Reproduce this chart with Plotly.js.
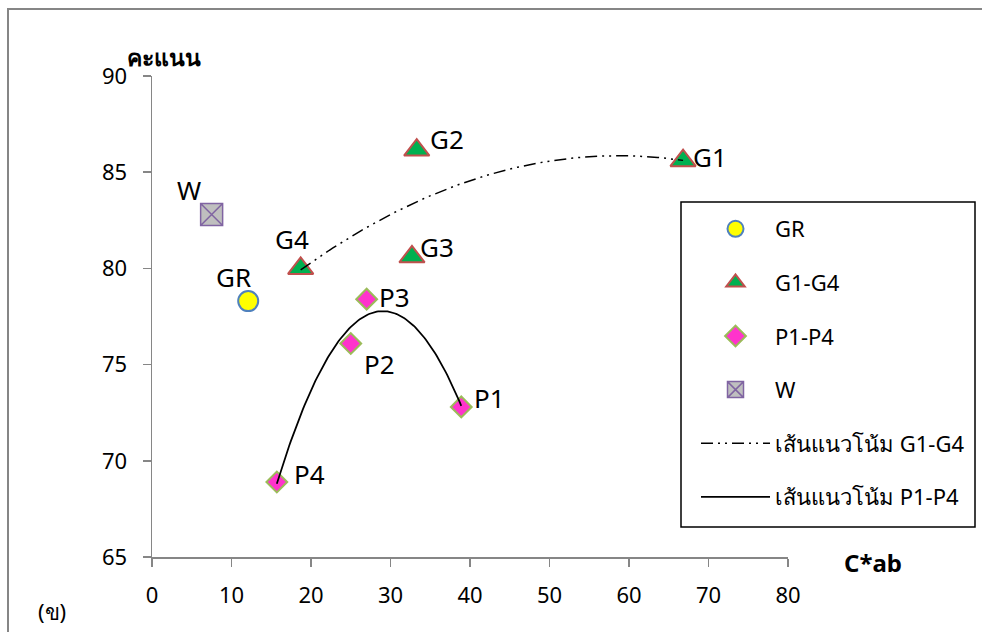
<!DOCTYPE html>
<html>
<head>
<meta charset="utf-8">
<script src="https://cdn.plot.ly/plotly-3.0.1.min.js"></script>
<style>
html,body{margin:0;padding:0;background:#fff;}
#chart{width:982px;height:632px;}
</style>
</head>
<body>
<div id="chart"></div>
<script>
// ---- data ----
const grName = 'GR';
const grX = [12.1];
const grY = [78.3];

const gName = 'G1-G4';
const gLabels = ['G1', 'G2', 'G3', 'G4'];
const gX = [66.8, 33.3, 32.7, 18.7];
const gY = [85.6, 86.15, 80.6, 80.0];

const pName = 'P1-P4';
const pLabels = ['P1', 'P2', 'P3', 'P4'];
const pX = [38.9, 25.0, 27.0, 15.7];
const pY = [72.8, 76.1, 78.4, 68.9];

const wName = 'W';
const wX = [7.5];
const wY = [82.8];

const trendGName = 'เส้นแนวโน้ม G1-G4';
const trendPName = 'เส้นแนวโน้ม P1-P4';

const yTitle = 'คะแนน';
const xTitle = 'C*ab';
const panelLabel = '(ข)';

// ---- label placement (style only) ----
const labelOffsets = {
  G1: [8, 4, 'left'], G2: [11, 11, 'left'], G3: [6, 10, 'left'], G4: [-9, 29, 'center'],
  P1: [11, 9, 'left'], P2: [11, -21, 'left'], P3: [10, 2, 'left'], P4: [15, 8, 'left'],
  GR: [-15, 24, 'center'], W: [-23, 25, 'center']
};

// least-squares quadratic fit (Excel polynomial trendline, order 2)
function quadFit(xs, ys) {
  let n = xs.length, S = [0,0,0,0,0], T = [0,0,0];
  for (let i = 0; i < n; i++) {
    let p = 1;
    for (let k = 0; k < 5; k++) { S[k] += p; if (k < 3) T[k] += p * ys[i]; p *= xs[i]; }
  }
  const A = [[S[0],S[1],S[2],T[0]],[S[1],S[2],S[3],T[1]],[S[2],S[3],S[4],T[2]]];
  for (let c = 0; c < 3; c++) {
    for (let r = c + 1; r < 3; r++) {
      const f = A[r][c] / A[c][c];
      for (let k = c; k < 4; k++) A[r][k] -= f * A[c][k];
    }
  }
  const coef = [0,0,0];
  for (let r = 2; r >= 0; r--) {
    let s = A[r][3];
    for (let k = r + 1; k < 3; k++) s -= A[r][k] * coef[k];
    coef[r] = s / A[r][r];
  }
  return coef;
}
function trend(xs, ys) {
  const c = quadFit(xs, ys);
  const lo = Math.min(...xs), hi = Math.max(...xs);
  const tx = [], ty = [];
  for (let i = 0; i <= 120; i++) {
    const x = lo + (hi - lo) * i / 120;
    tx.push(x); ty.push(c[0] + c[1] * x + c[2] * x * x);
  }
  return [tx, ty];
}
const [tgx, tgy] = trend(gX, gY);
const [tpx, tpy] = trend(pX, pY);

const FONT = '"Noto Sans", "Open Sans", "DejaVu Sans", sans-serif';

const traces = [
  {x: grX, y: grY, name: grName, type: 'scatter', mode: 'markers', legendgroup: 'a',
   marker: {symbol: 'circle', size: 20, color: '#FFFF00', line: {color: '#4F81BD', width: 2}}},
  {x: gX, y: gY, name: gName, type: 'scatter', mode: 'markers', legendgroup: 'b',
   marker: {symbol: 'triangle-up', size: 22, color: '#00B050', line: {color: '#C0504D', width: 2}}},
  {x: pX, y: pY, name: pName, type: 'scatter', mode: 'markers', legendgroup: 'c',
   marker: {symbol: 'diamond', size: 16, color: '#FF33CC', line: {color: '#9BBB59', width: 2}}},
  {x: wX, y: wY, name: wName, type: 'scatter', mode: 'markers', legendgroup: 'd',
   marker: {symbol: 'square-x', size: 22, color: '#BFBFBF', line: {color: '#8064A2', width: 1.5}}},
  {x: tgx, y: tgy, name: trendGName, type: 'scatter', mode: 'lines', legendgroup: 'e',
   line: {color: '#000000', width: 1.5, dash: '12px,5px,2px,5px,2px,5px'}},
  {x: tpx, y: tpy, name: trendPName, type: 'scatter', mode: 'lines', legendgroup: 'f',
   line: {color: '#000000', width: 1.75}}
];

const annotations = [];
function addLabels(labels, xs, ys) {
  labels.forEach((t, i) => {
    const o = labelOffsets[t];
    annotations.push({x: xs[i], y: ys[i], xref: 'x', yref: 'y', text: t, showarrow: false,
      xanchor: o[2], yanchor: 'middle', xshift: o[0], yshift: o[1],
      font: {family: FONT, size: 26, color: '#000'}});
  });
}
addLabels(gLabels, gX, gY);
addLabels(pLabels, pX, pY);
addLabels([grName], grX, grY);
addLabels([wName], wX, wY);

const px2x = p => (p - 152) / 636;
const px2y = p => (557 - p) / 481;

annotations.push({xref: 'paper', yref: 'paper', x: px2x(164), y: px2y(57), text: '<b>' + yTitle + '</b>',
  showarrow: false, xanchor: 'center', yanchor: 'middle', font: {family: FONT, size: 23, color: '#000'}});
annotations.push({xref: 'paper', yref: 'paper', x: px2x(873), y: px2y(562), text: '<b>' + xTitle + '</b>',
  showarrow: false, xanchor: 'center', yanchor: 'middle', font: {family: FONT, size: 24, color: '#000'}});
annotations.push({xref: 'paper', yref: 'paper', x: px2x(52), y: px2y(611), text: panelLabel,
  showarrow: false, xanchor: 'center', yanchor: 'middle', font: {family: FONT, size: 22, color: '#000'}});

const axisCommon = {showgrid: false, zeroline: false, showline: true, linecolor: '#868686', linewidth: 1.5,
  ticks: 'outside', ticklen: 8, tickcolor: '#868686', tickwidth: 1.5,
  tickfont: {family: FONT, size: 22, color: '#000'}};

const layout = {
  width: 982, height: 632,
  margin: {l: 152, r: 194, t: 76, b: 75},
  paper_bgcolor: '#fff', plot_bgcolor: '#fff',
  font: {family: FONT},
  xaxis: Object.assign({}, axisCommon, {range: [0, 80], dtick: 10, tick0: 0, ticklabelstandoff: 10}),
  yaxis: Object.assign({}, axisCommon, {range: [65, 90], dtick: 5, tick0: 65, ticklabelstandoff: 11}),
  showlegend: true,
  legend: {x: px2x(696), y: px2y(208), xanchor: 'left', yanchor: 'top', traceorder: 'grouped',
    tracegroupgap: 22, itemwidth: 69, bgcolor: 'rgba(0,0,0,0)', borderwidth: 0,
    font: {family: FONT, size: 22, color: '#000'}},
  shapes: [
    {type: 'rect', xref: 'paper', yref: 'paper', x0: px2x(8), x1: px2x(1000), y0: px2y(650), y1: px2y(9),
     line: {color: '#868686', width: 2}, fillcolor: 'rgba(0,0,0,0)', layer: 'below'},
    {type: 'rect', xref: 'paper', yref: 'paper', x0: px2x(681), x1: px2x(975), y0: px2y(527), y1: px2y(202),
     line: {color: '#000', width: 1.5}, fillcolor: '#fff', layer: 'above'}
  ],
  annotations: annotations
};

Plotly.newPlot('chart', traces, layout, {displayModeBar: false, staticPlot: true});
</script>
</body>
</html>
